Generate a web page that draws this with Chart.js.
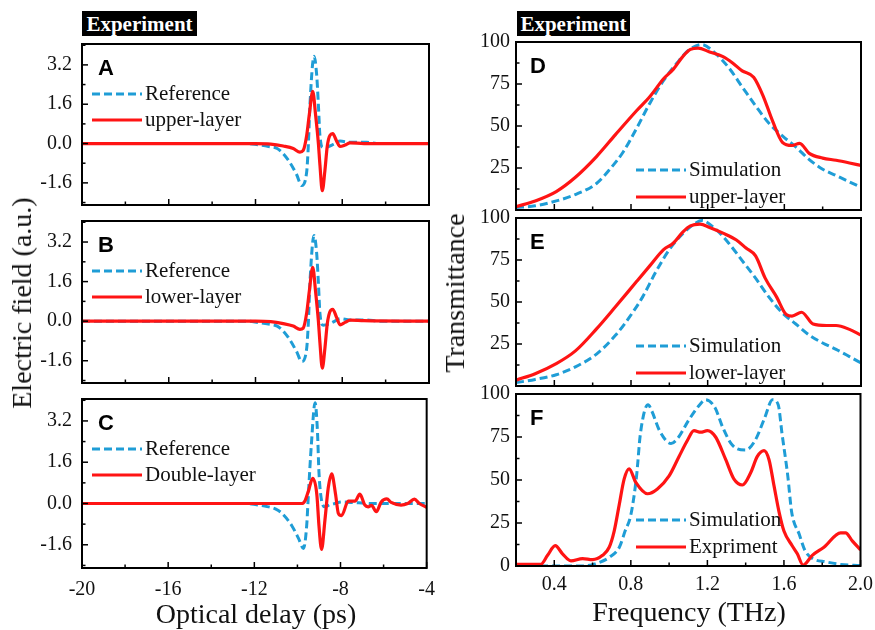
<!DOCTYPE html>
<html>
<head>
<meta charset="utf-8">
<title>Electric field and transmittance</title>
<script src="https://cdn.jsdelivr.net/npm/chart.js@4.4.1/dist/chart.umd.min.js"></script>
<style>
  html, body { margin: 0; padding: 0; background: #fff; }
  #stage { position: relative; width: 875px; height: 630px; overflow: hidden; background: #fff; }
  #stage canvas { position: absolute; }
  .tag { position: absolute; height: 25px; background: #000; color: #fff;
         font: bold 21px "Liberation Serif", "Times New Roman", serif; line-height: 26px; text-align: center; }
  .axis-title { position: absolute; font: 28px "Liberation Serif", "Times New Roman", serif; line-height: 28px;
                color: #111; white-space: nowrap; transform: translate(-50%, -50%); }
  .axis-title.vertical { transform: translate(-50%, -50%) rotate(-90deg); }
</style>
</head>
<body>
<div id="stage">
  <canvas id="chartA" width="445" height="205" style="left:0;top:22px"></canvas>
  <canvas id="chartB" width="445" height="206" style="left:0;top:199px"></canvas>
  <canvas id="chartC" width="445" height="225" style="left:0;top:377px"></canvas>
  <canvas id="chartD" width="440" height="204" style="left:440px;top:24px"></canvas>
  <canvas id="chartE" width="440" height="204" style="left:440px;top:200px"></canvas>
  <canvas id="chartF" width="440" height="224" style="left:440px;top:376px"></canvas>

  <div class="tag" style="left:82px;top:11px;width:115px">Experiment</div>
  <div class="tag" style="left:517px;top:11px;width:113px">Experiment</div>

  <div class="axis-title vertical" style="left:22px;top:303px">Electric field (a.u.)</div>
  <div class="axis-title" style="left:256px;top:614px">Optical delay (ps)</div>
  <div class="axis-title vertical" style="left:455px;top:293px">Transmittance</div>
  <div class="axis-title" style="left:689px;top:612px">Frequency (THz)</div>
</div>

<script>
// ---- time-domain traces (optical delay in ps, field in a.u.) ----
const refTime  = [-20, -12.4, -11.9, -11.4, -11.0, -10.72, -10.41, -10.1, -9.87, -9.64, -9.56, -9.49, -9.3, -9.18, -9.1, -9.03, -8.88, -8.57, -8.3, -8.1, -7.64, -6.87, -6.3, -4];
const refA     = [0, 0, -0.05, -0.12, -0.2, -0.41, -0.78, -1.27, -1.71, -1.15, 0, 1.57, 3.55, 2.8, 1.57, 0.33, -0.16, -0.1, 0.02, 0.1, 0.05, 0.05, 0, 0];
const refB     = [0, 0, -0.05, -0.12, -0.2, -0.4, -0.76, -1.24, -1.63, -1.1, 0, 1.55, 3.46, 2.75, 1.55, 0.33, -0.16, -0.1, 0.02, 0.1, 0.05, 0.05, 0, 0];

const refTimeC = [-20, -12.4, -11.9, -11.4, -11.0, -10.72, -10.26, -9.95, -9.72, -9.57, -9.49, -9.36, -9.18, -9.07, -9.0, -8.88, -8.72, -8.5, -8.26, -7.95, -7.5, -7.0, -6.5, -4];
const refC     = [0, 0, -0.05, -0.12, -0.22, -0.38, -0.86, -1.35, -1.74, -0.86, 0.36, 2.19, 3.9, 2.8, 1.21, 0.12, -0.13, -0.05, 0, 0.06, 0.04, 0.02, 0, 0];

const sampleTime = [-20, -12, -11.3, -10.72, -10.26, -9.95, -9.8, -9.64, -9.52, -9.36, -9.23, -9.1, -9.03, -8.92, -8.8, -8.69, -8.57, -8.44, -8.26, -8.1, -7.87, -7.64, -7.0, -4];
const upperLayer = [0, 0, -0.02, -0.1, -0.2, -0.35, -0.28, 0.33, 1.17, 2.12, 1.17, 0, -0.86, -1.92, -1.1, -0.1, 0.33, 0.4, 0.1, -0.12, -0.06, 0.03, 0, 0];
const lowerLayer = [0, 0, -0.02, -0.1, -0.2, -0.33, -0.28, 0.33, 1.2, 2.18, 1.2, 0, -0.86, -1.9, -1.1, -0.1, 0.38, 0.48, 0.15, -0.15, -0.05, 0.04, 0.02, 0];

const doubleTime  = [-20, -10.5, -9.8, -9.64, -9.49, -9.29, -9.1, -9.0, -8.88, -8.72, -8.57, -8.41, -8.23, -8.1, -7.95, -7.64, -7.33, -7.1, -6.87, -6.72, -6.56, -6.34, -6.11, -5.85, -5.65, -5.19, -4.88, -4.57, -4.34, -4];
const doubleLayer = [0, 0, 0, 0.12, 0.48, 0.97, 0.36, -0.86, -1.78, -0.62, 0.6, 1.15, 0.36, -0.38, -0.47, 0.09, 0.09, 0.36, -0.06, -0.13, -0.07, -0.32, 0.06, 0.18, 0.04, -0.06, 0, 0.17, 0, -0.15];

// ---- transmittance spectra (frequency in THz, transmittance in %) ----
const freqSimD = [0.2, 0.3, 0.41, 0.51, 0.62, 0.69, 0.76, 0.83, 0.9, 0.97, 1.04, 1.1, 1.17, 1.24, 1.31, 1.38, 1.45, 1.52, 1.59, 1.66, 1.73, 1.8, 1.87, 1.94, 2.0];
const simD     = [1.5, 2.5, 5.4, 9.2, 15.8, 24.3, 34.7, 48.8, 63.9, 77.1, 87.5, 95.1, 98.5, 93.2, 84.7, 73.3, 62, 51.6, 44.1, 37.5, 30, 24.3, 20.5, 16.7, 13.5];
const freqUpper = [0.2, 0.3, 0.41, 0.51, 0.62, 0.72, 0.83, 0.9, 0.97, 1.02, 1.07, 1.11, 1.15, 1.21, 1.28, 1.33, 1.38, 1.44, 1.49, 1.54, 1.59, 1.64, 1.68, 1.73, 1.8, 1.87, 1.94, 2.0];
const upperT    = [2, 5.4, 11, 19.5, 31.8, 45, 59.2, 67.7, 78.1, 83.7, 91.3, 95.6, 96.4, 94.1, 91.3, 87.5, 82.8, 79, 67.7, 52.6, 40.3, 38.4, 39.7, 33.7, 30.9, 29.6, 28, 26.5];

const freqSimE = [0.2, 0.3, 0.41, 0.51, 0.62, 0.72, 0.79, 0.86, 0.93, 1.0, 1.07, 1.14, 1.17, 1.24, 1.31, 1.38, 1.45, 1.52, 1.59, 1.66, 1.73, 1.8, 1.87, 1.94, 2.0];
const simE     = [2, 3.9, 6.7, 11.4, 19, 30.3, 40.7, 52.9, 68, 81.2, 90.6, 97.2, 98.5, 93.5, 85, 74.6, 64.2, 52.9, 43.5, 36.9, 30.3, 25.6, 21.8, 17.5, 13.7];
const freqLower = [0.2, 0.3, 0.41, 0.51, 0.62, 0.72, 0.83, 0.9, 0.97, 1.02, 1.07, 1.11, 1.16, 1.21, 1.28, 1.35, 1.4, 1.45, 1.5, 1.56, 1.61, 1.64, 1.69, 1.75, 1.82, 1.87, 1.94, 2.0];
const lowerT    = [3.5, 7.3, 13.3, 20.9, 34, 47.3, 62.3, 71.8, 81.2, 85, 91.6, 95.3, 96.3, 94.4, 91, 86.9, 82.1, 77.4, 64.2, 52.9, 42.5, 41.6, 43.9, 36.9, 36, 36, 33.7, 30.3];

const freqSimF = [0.2, 0.35, 0.55, 0.62, 0.69, 0.74, 0.77, 0.8, 0.83, 0.85, 0.89, 0.91, 0.95, 1.01, 1.05, 1.1, 1.16, 1.19, 1.24, 1.28, 1.33, 1.4, 1.45, 1.5, 1.54, 1.57, 1.59, 1.62, 1.64, 1.68, 1.71, 1.75, 1.82, 1.89, 2.0];
const simF     = [0, 0, 0, 1.5, 5.2, 10.9, 20.3, 29.7, 52.4, 76.9, 93.8, 90, 78.7, 71.2, 75, 84.4, 93.8, 96.7, 92, 80.6, 70.3, 67.4, 73.1, 86.3, 96.7, 93.8, 76.9, 52.4, 31.6, 18.4, 9, 4.3, 2.4, 1, 0.3];
const freqExp  = [0.2, 0.27, 0.33, 0.365, 0.405, 0.443, 0.487, 0.548, 0.6, 0.652, 0.687, 0.713, 0.739, 0.765, 0.791, 0.826, 0.887, 0.939, 1.0, 1.052, 1.096, 1.13, 1.165, 1.2, 1.243, 1.296, 1.339, 1.383, 1.426, 1.461, 1.496, 1.522, 1.548, 1.574, 1.6, 1.643, 1.67, 1.7, 1.748, 1.809, 1.896, 1.922, 1.957, 2.0];
const expT     = [1, 1, 1, 6.2, 11.8, 7.1, 3, 4.3, 3.7, 6.2, 10.9, 20.3, 35.4, 50.5, 56.5, 48.6, 42, 44.8, 52.4, 63.7, 73.1, 78.7, 77.8, 78.7, 75, 61.8, 50.5, 47.1, 54.2, 63.7, 67.1, 61.8, 46.7, 31.6, 20.3, 11.8, 7.1, 0.5, 6.2, 10.9, 19.3, 19.3, 14.6, 9.4];

// ---- axis ticks ----
const delayTicks = [-20, -16, -12, -8, -4];
const delayMinor = [-18, -14, -10, -6];
const fieldTicks = [-1.6, 0, 1.6, 3.2];
const fieldMinor = [-2.4, -0.8, 0.8, 2.4, 4.0];
const freqTicks  = [0.4, 0.8, 1.2, 1.6, 2.0];
const freqMinor  = [0.6, 1.0, 1.4, 1.8];
const transMajor = [0, 25, 50, 75, 100];
const transMinor = [12.5, 37.5, 62.5, 87.5];
const transLabelsUpper  = [25, 50, 75, 100];
const transLabelsBottom = [0, 25, 50, 75, 100];

const BLUE = '#1f9dd6';
const RED = '#ff1414';
const SERIF = '"Liberation Serif", "Times New Roman", serif';

// frame, inward tick marks, panel letter and in-plot legend
const panelDecor = {
  id: 'panelDecor',
  afterDatasetsDraw(chart, args, o) {
    const { ctx, chartArea: a, scales: { x, y } } = chart;
    ctx.save();
    ctx.strokeStyle = '#000';
    ctx.lineWidth = 1.5;
    const seg = (x1, y1, x2, y2) => { ctx.beginPath(); ctx.moveTo(x1, y1); ctx.lineTo(x2, y2); ctx.stroke(); };
    o.xMajor.forEach(v => { const p = x.getPixelForValue(v); seg(p, a.bottom, p, a.bottom - 6); });
    o.xMinor.forEach(v => { const p = x.getPixelForValue(v); seg(p, a.bottom, p, a.bottom - 3.5); });
    o.yMajor.forEach(v => { const p = y.getPixelForValue(v); seg(a.left, p, a.left + 6, p); });
    o.yMinor.forEach(v => { const p = y.getPixelForValue(v); seg(a.left, p, a.left + 3.5, p); });
    ctx.lineWidth = 2;
    ctx.strokeRect(a.left, a.top, a.right - a.left, a.bottom - a.top);

    ctx.fillStyle = '#000';
    ctx.font = 'bold 22px "Liberation Sans", Arial, sans-serif';
    ctx.textBaseline = 'alphabetic';
    ctx.textAlign = 'left';
    ctx.fillText(o.letter, a.left + o.letterDx, a.top + 31);

    ctx.font = '21px ' + SERIF;
    ctx.textBaseline = 'middle';
    o.legend.forEach((item, i) => {
      const ds = chart.data.datasets[item];
      const ly = a.top + o.legendY + i * o.legendGap;
      const lx = a.left + o.legendX;
      ctx.strokeStyle = ds.borderColor;
      ctx.lineWidth = ds.borderWidth;
      ctx.setLineDash(ds.borderDash || []);
      seg(lx, ly, lx + 50, ly);
      ctx.setLineDash([]);
      ctx.fillStyle = '#111';
      ctx.fillText(ds.label, lx + 53, ly);
    });
    ctx.restore();
  }
};

function pairs(xs, ys) { return xs.map((v, i) => ({ x: v, y: ys[i] })); }

function panelChart(cfg) {
  const tickFont = { family: SERIF, size: 20 };
  return new Chart(document.getElementById(cfg.id), {
    type: 'line',
    data: {
      datasets: cfg.series.map(s => ({
        label: s.label,
        data: pairs(s.x, s.y),
        borderColor: s.color,
        borderWidth: s.width,
        borderDash: s.dash || [],
        order: s.order,
        pointRadius: 0,
        fill: false,
        cubicInterpolationMode: 'monotone',
        borderJoinStyle: 'round'
      }))
    },
    plugins: [panelDecor],
    options: {
      responsive: false,
      animation: false,
      events: [],
      layout: { autoPadding: false, padding: { left: 0, right: cfg.padRight, top: 14, bottom: cfg.showX ? 0 : 14 } },
      plugins: {
        legend: { display: false },
        tooltip: { enabled: false },
        panelDecor: cfg.decor
      },
      scales: {
        x: {
          type: 'linear',
          min: cfg.xMin, max: cfg.xMax,
          grid: { display: false, drawTicks: false },
          border: { display: false },
          ticks: {
            display: cfg.showX, autoSkip: false, maxRotation: 0, padding: cfg.xPad,
            font: tickFont, color: '#111', callback: cfg.xFormat
          },
          afterBuildTicks: s => { s.ticks = cfg.xLabels.map(v => ({ value: v })); },
          afterFit: s => { s.height = cfg.showX ? 34 : 0; }
        },
        y: {
          type: 'linear',
          min: cfg.yMin, max: cfg.yMax,
          grid: { display: false, drawTicks: false },
          border: { display: false },
          ticks: {
            autoSkip: false, padding: cfg.yPad,
            font: tickFont, color: '#111', callback: cfg.yFormat
          },
          afterBuildTicks: s => { s.ticks = cfg.yLabels.map(v => ({ value: v })); },
          afterFit: s => { s.width = cfg.yWidth; }
        }
      }
    }
  });
}

const fmt1 = v => Number(v).toFixed(1);
const fmt0 = v => String(v);

function fieldPanel(id, letter, showX, refX, refY, sampleLabel, sampleX, sampleY) {
  panelChart({
    id, showX,
    padRight: 16, yWidth: 82, xPad: 10, yPad: 10,
    xMin: -20, xMax: -4, yMin: -2.5, yMax: 4.05,
    xLabels: delayTicks, yLabels: fieldTicks,
    xFormat: fmt0, yFormat: fmt1,
    series: [
      { label: 'Reference', x: refX, y: refY, color: BLUE, width: 3, dash: [8, 4], order: 1 },
      { label: sampleLabel, x: sampleX, y: sampleY, color: RED, width: 3.2, order: 0 }
    ],
    decor: {
      letter, letterDx: 16,
      legend: [0, 1], legendX: 10, legendY: 50, legendGap: 26,
      xMajor: delayTicks, xMinor: delayMinor, yMajor: fieldTicks, yMinor: fieldMinor
    }
  });
}

function transPanel(id, letter, showX, yLabels, simX, simY, expLabel, expX, expY, legendY) {
  panelChart({
    id, showX,
    padRight: 19, yWidth: 76, xPad: 7, yPad: 6,
    xMin: 0.2, xMax: 2.0, yMin: 0, yMax: 100,
    xLabels: freqTicks, yLabels,
    xFormat: fmt1, yFormat: fmt0,
    series: [
      { label: 'Simulation', x: simX, y: simY, color: BLUE, width: 3, dash: [8, 4], order: 1 },
      { label: expLabel, x: expX, y: expY, color: RED, width: 3.2, order: 0 }
    ],
    decor: {
      letter, letterDx: 14,
      legend: [0, 1], legendX: 120, legendY, legendGap: 27,
      xMajor: freqTicks, xMinor: freqMinor, yMajor: transMajor, yMinor: transMinor
    }
  });
}

fieldPanel('chartA', 'A', false, refTime, refA, 'upper-layer', sampleTime, upperLayer);
fieldPanel('chartB', 'B', false, refTime, refB, 'lower-layer', sampleTime, lowerLayer);
fieldPanel('chartC', 'C', true, refTimeC, refC, 'Double-layer', doubleTime, doubleLayer);

transPanel('chartD', 'D', false, transLabelsUpper, freqSimD, simD, 'upper-layer', freqUpper, upperT, 128);
transPanel('chartE', 'E', false, transLabelsUpper, freqSimE, simE, 'lower-layer', freqLower, lowerT, 128);
transPanel('chartF', 'F', true, transLabelsBottom, freqSimF, simF, 'Expriment', freqExp, expT, 126);
</script>
</body>
</html>
